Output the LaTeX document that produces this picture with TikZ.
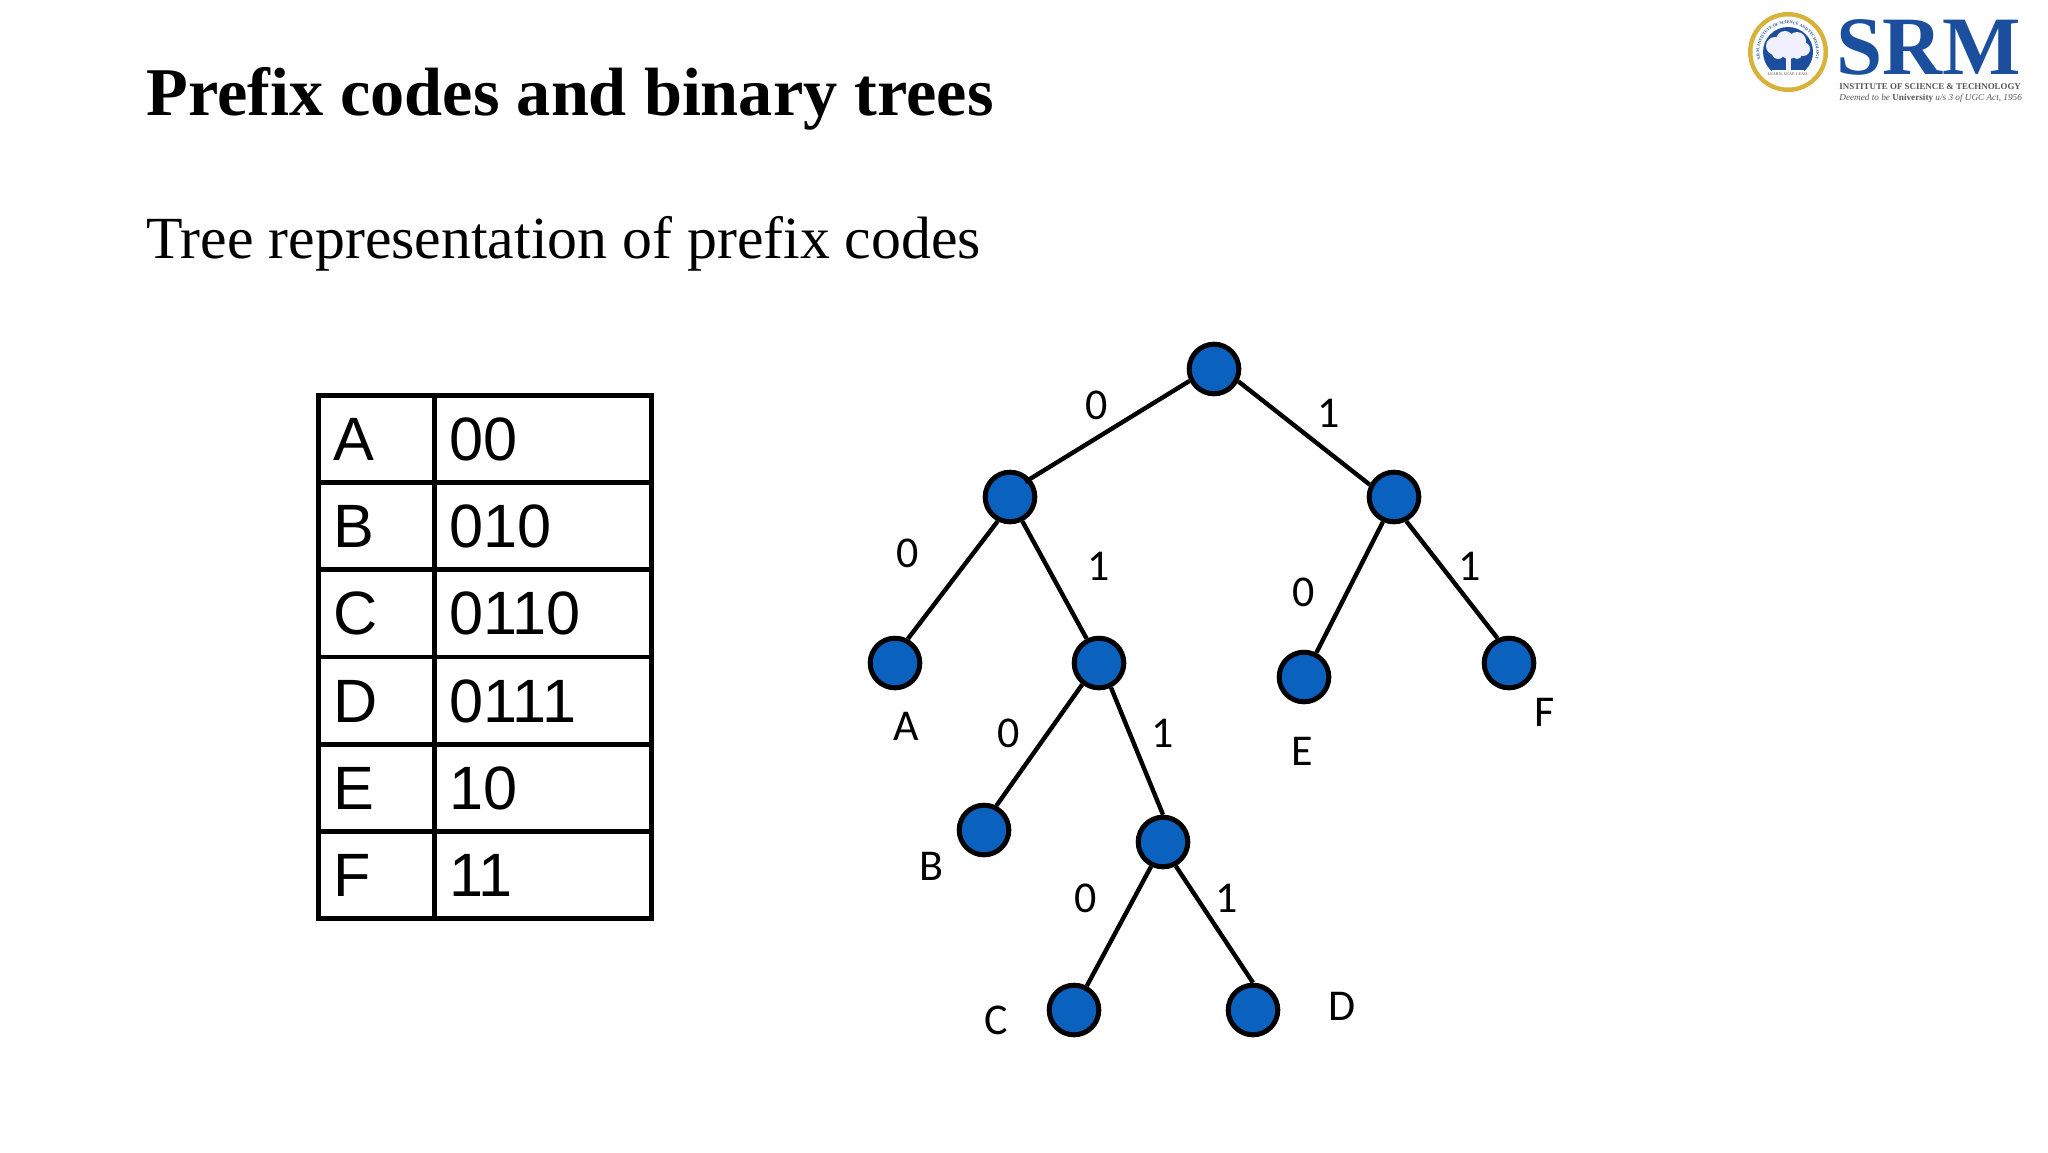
\documentclass[tikz,border=0pt]{standalone}
\usepackage{fontspec}
\setmainfont{Liberation Serif}
\newfontfamily\arialfont{Liberation Sans}
\newfontfamily\calfont{Carlito}
\usetikzlibrary{decorations.text}
\definecolor{nodeblue}{HTML}{0A62BE}
\definecolor{srmblue}{HTML}{1B4F9E}
\definecolor{srmgold}{HTML}{D9B23C}
\definecolor{srmgrey}{HTML}{55565A}
\tikzset{
  vertex/.style={circle, draw=black, fill=nodeblue, line width=2.5pt, minimum size=24.8pt, inner sep=0pt},
  branch/.style={draw=black, line width=2.2pt},
  bit/.style={font=\calfont\fontsize{22}{24}\selectfont, inner sep=0pt},
  leafname/.style={font=\calfont\fontsize{22}{24}\selectfont, inner sep=0pt},
  symcell/.style={draw=black, line width=2.4pt, anchor=north west, align=left, inner xsep=7.5pt, inner ysep=0pt,
                  text width=43pt, minimum height=43.6pt, text height=21.5pt, text depth=0pt,
                  font=\arialfont\fontsize{30.6}{30}\selectfont},
  codecell/.style={symcell, text width=93.5pt},
}
\begin{document}
\begin{tikzpicture}[x=0.5pt, y=-0.5pt]
\useasboundingbox (0,0) rectangle (2048,1152);

% --- headings ---
\node[anchor=base west, inner sep=0pt, font=\bfseries\fontsize{34.15}{36}\selectfont] (title) at (146,115) {Prefix codes and binary trees};
\node[anchor=base west, inner sep=0pt, font=\fontsize{29.9}{32}\selectfont] (subtitle) at (146,258) {Tree representation of prefix codes};

% --- code table ---
\foreach \row/\sym/\code in {0/A/00, 1/B/010, 2/C/0110, 3/D/0111, 4/E/10, 5/F/11} {
  \node[symcell] (s\sym) at (316,393+87.2*\row) {\sym};
  \node[codecell] (c\sym) at (432,393+87.2*\row) {\code};
}

% --- tree ---
\node[vertex] (root) at (1214,369) {};
\node[vertex] (n0)   at (1010,497) {};
\node[vertex] (n1)   at (1394,497) {};
\node[vertex] (a)    at (895,663) {};
\node[vertex] (n01)  at (1099,663) {};
\node[vertex] (e)    at (1304,677) {};
\node[vertex] (f)    at (1509,663) {};
\node[vertex] (b)    at (984,830) {};
\node[vertex] (n011) at (1163,842) {};
\node[vertex] (c)    at (1074,1010) {};
\node[vertex] (d)    at (1253,1010) {};

\draw[branch, shorten >=-3pt] (root.-154) -- (n0.42);
\draw[branch] (root.-27) -- (n1.153);
\draw[branch] (n0.-117) -- (a.62);
\draw[branch] (n0.-63) -- (n01.117);
\draw[branch] (n1.-114) -- (e.63);
\draw[branch] (n1.-63) -- (f.115);
\draw[branch] (n01.-128) -- (b.63);
\draw[branch] (n01.-64) -- (n011.90);
\draw[branch] (n011.-116) -- (c.62);
\draw[branch] (n011.-62) -- (d.90);

% --- edge bits ---
\node[bit] (b1) at (1097,405) {0};
\node[bit] (b2) at (1329,413) {1};
\node[bit] (b3) at (908,553) {0};
\node[bit] (b4) at (1099,566) {1};
\node[bit] (b5) at (1304,592) {0};
\node[bit] (b6) at (1470,566) {1};
\node[bit] (b7) at (1009,733) {0};
\node[bit] (b8) at (1163,733) {1};
\node[bit] (b9) at (1086,898) {0};
\node[bit] (b10) at (1227,898) {1};

% --- leaf names ---
\node[leafname] (la) at (906,726) {A};
\node[leafname] (lb) at (931,866) {B};
\node[leafname] (lc) at (996,1020) {C};
\node[leafname] (ld) at (1342,1006) {D};
\node[leafname] (le) at (1302,751) {E};
\node[leafname] (lf) at (1545,712) {F};

% --- logo ---
\fill[srmgold] (1788,52) circle (40);
\fill[white] (1788,52) circle (35.5);
\fill[srmblue] (1788,52) circle (25);
\foreach \bx/\by/\br in {1775/46/9, 1785/40/9, 1797/41/9, 1803/49/7, 1789/50/9, 1778/53/6, 1797/54/5}
  \fill[blue!6] (\bx,\by) circle (\br);
\fill[blue!6] (1786,55) rectangle (1791,72);
\fill[white] (1772,70) rectangle (1804,78);
\path[postaction={decorate}, decoration={text along path, text align=center,
    text={|\fontsize{2.1}{3}\selectfont\bfseries\color{srmblue}|S.R.M. INSTITUTE OF SCIENCE AND TECHNOLOGY}}]
  (1761,62) arc[start angle=160, end angle=380, radius=28.5];
\node[inner sep=0pt, text=srmgrey, font=\fontsize{2.1}{3}\selectfont] (motto) at (1788,74.5) {LEARN. LEAP. LEAD.};
\node[anchor=base west, inner sep=0pt, text=srmblue, font=\bfseries\fontsize{41.5}{44}\selectfont] (srm) at (1836,74) {SRM};
\node[anchor=base west, inner sep=0pt, text=srmgrey, font=\bfseries\fontsize{4.45}{6}\selectfont] (inst) at (1839,89) {INSTITUTE OF SCIENCE \& TECHNOLOGY};
\node[anchor=base west, inner sep=0pt, text=srmgrey, font=\itshape\fontsize{4.6}{6}\selectfont] (deem) at (1839,100) {Deemed to be \textbf{\upshape University} u/s 3 of UGC Act, 1956};
\end{tikzpicture}
\end{document}
